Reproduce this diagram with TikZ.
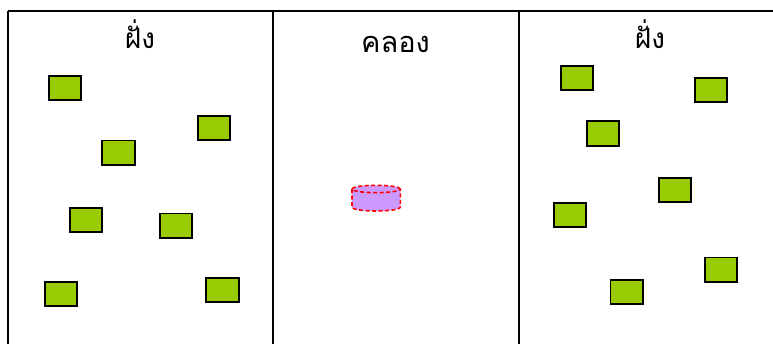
\documentclass[tikz,border=0pt]{standalone}
\usepackage{fontspec}
\newfontfamily\thaifont[Script=Thai]{Loma}
\definecolor{lime}{HTML}{99CC00}
\definecolor{lilac}{HTML}{CC99FF}
\begin{document}
\begin{tikzpicture}[x=1pt,y=1pt,
  brick/.style={draw=black,line width=1.6pt,fill=lime,minimum width=32.5pt,minimum height=24.5pt,inner sep=0pt},
  rule/.style={line width=2pt,black},
  lbl/.style={anchor=base,inner sep=0pt,font=\thaifont}]
\useasboundingbox (0,0) rectangle (773,343);
\clip (0,0) rectangle (773,343);
% table lines
\coordinate (tl) at (8,331.5);
\coordinate (tr) at (780,331.5);
\coordinate (bl) at (8,-2);
\coordinate (m1t) at (273,331.5);
\coordinate (m1b) at (273,-2);
\coordinate (m2t) at (519,331.5);
\coordinate (m2b) at (519,-2);
\draw[rule] (tl) -- (tr);
\draw[rule] (tl) -- (bl);
\draw[rule] (m1t) -- (m1b);
\draw[rule] (m2t) -- (m2b);
% labels
\node[lbl,font=\thaifont\fontsize{28}{28}\selectfont] (bank1) at (140,294) {ฝั่ง};
\node[lbl,font=\thaifont\fontsize{29}{29}\selectfont] (canal) at (395.5,290.5) {คลอง};
\node[lbl,font=\thaifont\fontsize{28}{28}\selectfont] (bank2) at (650,294) {ฝั่ง};
% left bank bricks
\node[brick] (a1) at (65,255) {};
\node[brick] (a2) at (214,215) {};
\node[brick] (a3) at (118.5,190.3) {};
\node[brick] (a4) at (86,123) {};
\node[brick] (a5) at (176,117.3) {};
\node[brick] (a6) at (61,49) {};
\node[brick] (a7) at (222.5,53) {};
% right bank bricks
\node[brick] (b1) at (577,265) {};
\node[brick] (b2) at (711,253) {};
\node[brick] (b3) at (603,209.5) {};
\node[brick] (b4) at (675,153) {};
\node[brick] (b5) at (570,128) {};
\node[brick] (b6) at (626.7,51) {};
\node[brick] (b7) at (721,73.3) {};
% cylinder in canal
\fill[lilac] (352,154) -- (352,135.7) arc[start angle=180,end angle=360,x radius=24.2,y radius=3.7] -- (400.4,154) arc[start angle=0,end angle=180,x radius=24.2,y radius=3.7] -- cycle;
\draw[red,line width=1.6pt,dash pattern=on 4pt off 2.5pt] (352,154) -- (352,135.7) arc[start angle=180,end angle=360,x radius=24.2,y radius=3.7] -- (400.4,154);
\draw[red,line width=1.6pt,dash pattern=on 4pt off 2.5pt] (376.2,154) ellipse[x radius=24.2,y radius=3.7];
\end{tikzpicture}
\end{document}
